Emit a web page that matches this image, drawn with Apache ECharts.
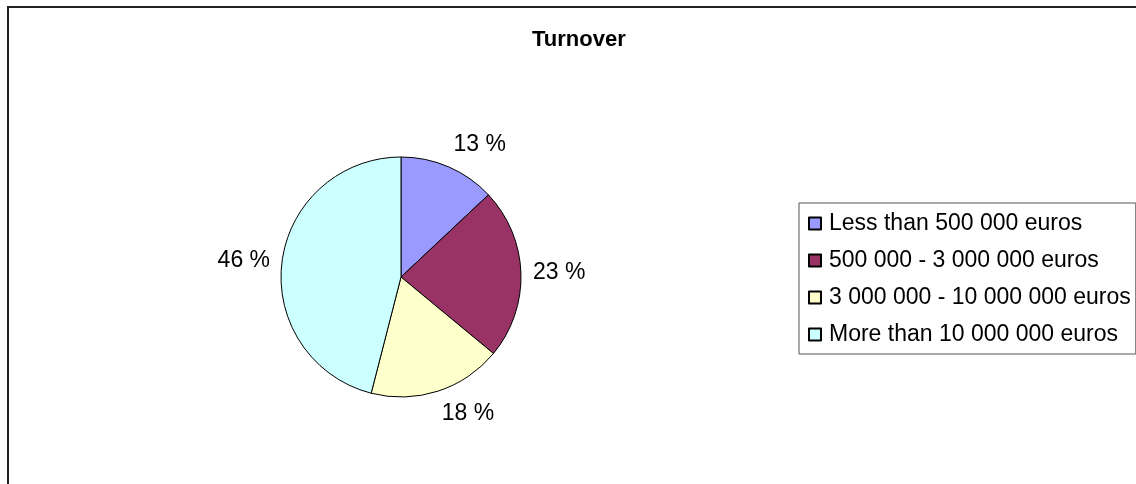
<!DOCTYPE html>
<html>
<head>
<meta charset="utf-8">
<script src="https://cdn.jsdelivr.net/npm/echarts@6/dist/echarts.min.js"></script>
<style>
  html, body { margin: 0; padding: 0; background: #fff; }
  #chart { width: 1136px; height: 484px; }
</style>
</head>
<body>
<div id="chart"></div>
<script>
// turnover pie
var categories = ['Less than 500 000 euros', '500 000 - 3 000 000 euros', '3 000 000 - 10 000 000 euros', 'More than 10 000 000 euros'];
var shares = [13, 23, 18, 46];
var sliceColors = ['#9999ff', '#993366', '#ffffcc', '#ccffff'];

var pieData = categories.map(function (name, i) {
    return { name: name, value: shares[i], itemStyle: { color: sliceColors[i] } };
});

var myChart = echarts.init(document.getElementById('chart'));
window.onresize = myChart.resize;

var font = 'Liberation Sans, Arial, sans-serif';
var cx = 401, cy = 277, r = 120, labelGap = 12;

var total = shares.reduce(function (a, b) { return a + b; }, 0);

// excel-like label placement: box sits just outside the rim at mid angle
var placeLabel = function (params) {
    var i = params.dataIndex;
    var before = 0;
    for (var k = 0; k < i; k++) before += shares[k];
    var mid = (before + shares[i] / 2) / total * Math.PI * 2;
    var dx = Math.sin(mid), dy = -Math.cos(mid);
    var px = cx + (r + labelGap) * dx;
    var py = cy + (r + labelGap) * dy;
    var vAlign = Math.abs(dy) < 0.5 ? 'middle' : (dy < 0 ? 'bottom' : 'top');
    return {
        x: px,
        y: py,
        align: dx >= 0 ? 'left' : 'right',
        verticalAlign: vAlign
    };
};

var option = {
    animation: false,
    graphic: [
        {
            type: 'rect',
            shape: { x: 8, y: 7, width: 1150, height: 500 },
            style: { fill: 'none', stroke: '#222', lineWidth: 2 },
            silent: true
        }
    ],
    title: {
        text: 'Turnover',
        left: 532,
        top: 29,
        padding: 0,
        textStyle: { fontFamily: font, fontSize: 22, fontWeight: 'bold', color: '#000' }
    },
    legend: {
        orient: 'vertical',
        left: 799,
        top: 203,
        padding: [9, 5, 8, 9],
        itemGap: 14,
        itemWidth: 12,
        itemHeight: 12,
        icon: 'rect',
        borderColor: '#555',
        borderWidth: 1,
        data: categories,
        textStyle: { fontFamily: font, fontSize: 23, lineHeight: 23, color: '#000', padding: [0, 0, 0, 3] }
    },
    series: [
        {
            name: 'Turnover',
            type: 'pie',
            center: [cx, cy],
            radius: r,
            startAngle: 90,
            clockwise: true,
            label: {
                show: true,
                position: 'outside',
                formatter: '{c} %',
                fontFamily: font,
                fontSize: 23,
                color: '#000'
            },
            labelLine: { show: false },
            labelLayout: placeLabel,
            itemStyle: { borderColor: '#000', borderWidth: 1 },
            emphasis: { disabled: true },
            data: pieData
        }
    ]
};

myChart.setOption(option);
</script>
</body>
</html>
